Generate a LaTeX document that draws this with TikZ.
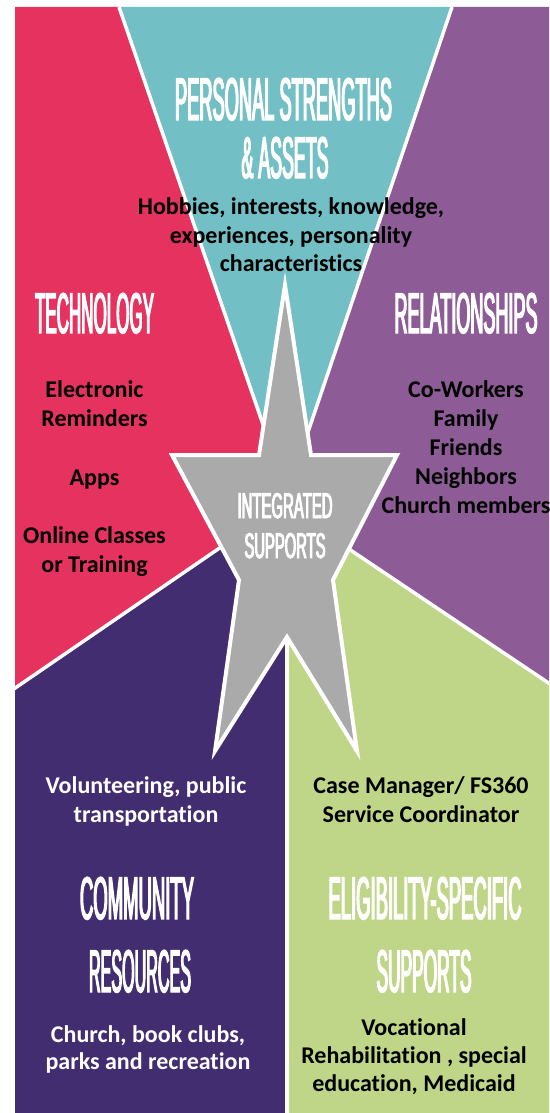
\documentclass[tikz,border=0pt]{standalone}
\usepackage{graphicx}
\usepackage{fontspec}
\setmainfont{Carlito}[Ligatures=NoCommon]
\newfontfamily\hdfont[FakeStretch=0.32,FakeBold=2.2]{Liberation Sans}
\definecolor{cRed}{HTML}{E5325F}
\definecolor{cTeal}{HTML}{72BFC5}
\definecolor{cPurple}{HTML}{8D5B96}
\definecolor{cDark}{HTML}{432D71}
\definecolor{cGreen}{HTML}{BFD587}
\definecolor{cGray}{HTML}{AAAAAA}
\newcommand\myhead[3]{\resizebox{#1pt}{#2pt}{#3}}
\tikzset{
  sepline/.style={white, line width=3.5pt},
  body/.style={font=\fontsize{24}{29}\selectfont\bfseries, inner sep=0pt, anchor=base},
  head/.style={font=\hdfont, text=white, inner sep=0pt, anchor=base},
}
\begin{document}
\begin{tikzpicture}[x=1pt,y=-1pt]
\useasboundingbox (0,0) rectangle (549,1113);
\fill[white] (0,0) rectangle (549,1113);
% key points
\coordinate (TL) at (15,7);
\coordinate (TR) at (549,7);
\coordinate (BL) at (15,1113);
\coordinate (BR) at (549,1113);
\coordinate (tealL) at (119,7);
\coordinate (tealR) at (452,7);
\coordinate (apex) at (287,494);
\coordinate (redEnd) at (15,688);
\coordinate (redEndX) at (5,695);
\coordinate (redStar) at (224,545);
\coordinate (grnEnd) at (549,683);
\coordinate (grnEndX) at (559,690);
\coordinate (grnStar) at (343,545);
\coordinate (midStar) at (287,600);
\coordinate (midBot) at (287,1113);
\coordinate (midBotX) at (287,1120);
\coordinate (notch) at (287,637);
% sectors
\fill[cTeal] (tealL) -- (tealR) -- (apex) -- cycle;
\fill[cRed] (TL) -- (tealL) -- (apex) -- (redStar) -- (redEnd) -- cycle;
\fill[cPurple] (tealR) -- (TR) -- (grnEnd) -- (grnStar) -- (apex) -- cycle;
\fill[cDark] (redEnd) -- (redStar) -- (midStar) -- (midBot) -- (BL) -- cycle;
\fill[cGreen] (midStar) -- (grnStar) -- (grnEnd) -- (BR) -- (midBot) -- cycle;
% white separators
\begin{scope}
\clip (TL) rectangle (BR);
\draw[sepline] (tealL) -- (apex);
\draw[sepline] (tealR) -- (apex);
\draw[sepline] (redEndX) -- (redStar);
\draw[sepline] (grnEndX) -- (grnStar);
\draw[sepline] (notch) -- (midBotX);
\end{scope}
% star
\draw[white, line width=4pt, fill=cGray]
  (285,285) -- (311,455) -- (397,455) -- (333,580) -- (357,751) -- (notch)
  -- (215,751) -- (239,580) -- (172,455) -- (259,455) -- cycle;
% headings
\node[head] (hPS1) at (283.5,120) {\myhead{217}{42}{PERSONAL STRENGTHS}};
\node[head] (hPS2) at (285,178) {\myhead{87}{41}{\& ASSETS}};
\node[head] (hTE) at (94.5,333) {\myhead{119}{40}{TECHNOLOGY}};
\node[head] (hRE) at (466,333) {\myhead{143}{40}{RELATIONSHIPS}};
\node[head] (hIN1) at (285,518) {\myhead{95}{25}{INTEGRATED}};
\node[head] (hIN2) at (285,558) {\myhead{81}{25}{SUPPORTS}};
\node[head] (hCO1) at (137,919) {\myhead{114}{42}{COMMUNITY}};
\node[head] (hCO2) at (140,992) {\myhead{102}{42}{RESOURCES}};
\node[head] (hEL1) at (425,919) {\myhead{193}{42}{ELIGIBILITY-SPECIFIC}};
\node[head] (hEL2) at (424,992) {\myhead{95}{42}{SUPPORTS}};
% personal strengths text
\node[body] (tPS1) at (291,214) {Hobbies, interests, knowledge,};
\node[body] (tPS2) at (291,243) {experiences, personality};
\node[body] (tPS3) at (291,271) {characteristics};
% technology text
\node[body] (tTE1) at (94.5,397) {Electronic};
\node[body] (tTE2) at (94.5,426) {Reminders};
\node[body] (tTE3) at (94.5,485) {Apps};
\node[body] (tTE4) at (94.5,543) {Online Classes};
\node[body] (tTE5) at (94.5,572) {or Training};
% relationships text
\node[body] (tRE1) at (466,397) {Co-Workers};
\node[body] (tRE2) at (466,426) {Family};
\node[body] (tRE3) at (466,455) {Friends};
\node[body] (tRE4) at (466,484) {Neighbors};
\node[body] (tRE5) at (466,513) {Church members};
% community text
\node[body, text=white] (tCO1) at (146,793) {Volunteering, public};
\node[body, text=white] (tCO2) at (146,822) {transportation};
\node[body, text=white] (tCO3) at (148,1042) {Church, book clubs,};
\node[body, text=white] (tCO4) at (148,1069) {parks and recreation};
% eligibility text
\node[body] (tEL1) at (421,793) {Case Manager/ FS360};
\node[body] (tEL2) at (421,822) {Service Coordinator};
\node[body] (tEL3) at (414,1035) {Vocational};
\node[body] (tEL4) at (414,1063) {Rehabilitation , special};
\node[body] (tEL5) at (414,1091) {education, Medicaid};
\end{tikzpicture}
\end{document}
